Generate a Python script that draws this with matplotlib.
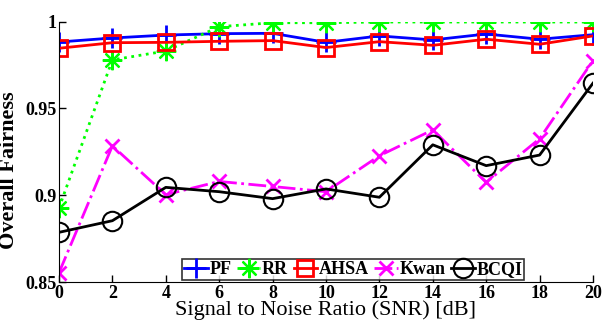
import numpy as np
import matplotlib
matplotlib.use('Agg')
import matplotlib.pyplot as plt

snr = [0, 2, 4, 6, 8, 10, 12, 14, 16, 18, 20]
pf = [0.9882, 0.9905, 0.9922, 0.9930, 0.9932, 0.9880, 0.9917, 0.9894, 0.9928, 0.9898, 0.9924]
rr = [0.8926, 0.9779, 0.9830, 0.9970, 0.9993, 0.9993, 0.9997, 0.9997, 0.9997, 0.9997, 0.9997]
ahsa = [0.9846, 0.9878, 0.9880, 0.9886, 0.9890, 0.9850, 0.9884, 0.9863, 0.9898, 0.9869, 0.9917]
kwan = [0.8553, 0.9284, 0.9003, 0.9079, 0.9050, 0.9020, 0.9227, 0.9376, 0.9074, 0.9325, 0.9775]
bcqi = [0.8786, 0.8853, 0.9045, 0.9020, 0.8980, 0.9036, 0.8988, 0.9290, 0.9170, 0.9231, 0.9645]

x_ticks = [0, 2, 4, 6, 8, 10, 12, 14, 16, 18, 20]
y_ticks = [0.85, 0.9, 0.95, 1.0]
y_tick_labels = ['0.85', '0.9', '0.95', '1']

plt.rcParams['font.family'] = ['Liberation Serif', 'DejaVu Serif']

fig = plt.figure(figsize=(6.03, 3.22), dpi=100)
ax = fig.add_axes([0.0978, 0.1242, 0.8856, 0.809])

ax.plot(snr, pf, color='blue', linestyle='-', linewidth=2, marker='+', markersize=14,
        markeredgewidth=2, label='PF')
ax.plot(snr, rr, color='#00ff00', linestyle=':', linewidth=2, marker=(8, 2, 0), markersize=14,
        markeredgewidth=1.6, label='RR')
ax.plot(snr, ahsa, color='red', linestyle='-', linewidth=2, marker='s', markersize=11,
        markeredgewidth=2, markerfacecolor='none', label='AHSA')
ax.plot(snr, kwan, color='magenta', linestyle='-.', linewidth=2, marker='x', markersize=10,
        markeredgewidth=2, label='Kwan')
ax.plot(snr, bcqi, color='black', linestyle='-', linewidth=2, marker='o', markersize=14,
        markeredgewidth=1.5, markerfacecolor='none', label='BCQI')

ax.set_xlim(0, 20)
ax.set_ylim(0.85, 1.0)
ax.set_xticks(x_ticks)
ax.set_xticklabels([str(t) for t in x_ticks], fontsize=13, fontweight='bold')
ax.set_yticks(y_ticks)
ax.set_yticklabels(y_tick_labels, fontsize=13, fontweight='bold')
ax.tick_params(direction='in', length=5, width=1, pad=2)
ax.spines['top'].set_visible(False)
ax.spines['right'].set_visible(False)

ax.set_xlabel('Signal to Noise Ratio (SNR) [dB]', fontsize=16, labelpad=-1)
ax.set_ylabel('Overall Fairness', fontsize=16, fontweight='bold')
ax.yaxis.set_label_coords(-0.075, 0.43)

leg = ax.legend(loc='lower center', bbox_to_anchor=(0.551, 0.0), ncol=5,
                prop={'weight': 'bold', 'size': 13}, frameon=True, fancybox=False,
                handlelength=1.3, handletextpad=0.1, columnspacing=0.3,
                borderpad=0.12, borderaxespad=0.1)
leg.get_frame().set_edgecolor('black')
leg.get_frame().set_linewidth(1.2)

fig.savefig('out.png', dpi=100)
